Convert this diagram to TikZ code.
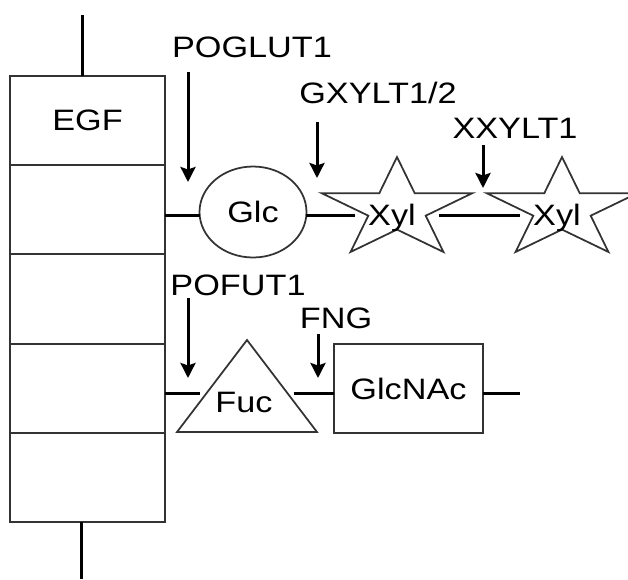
\documentclass[tikz,border=0pt]{standalone}
\usepackage{fontspec}
\setmainfont[FakeStretch=1.16]{Liberation Sans}
\usetikzlibrary{shapes.geometric, arrows.meta}

\begin{document}
\begin{tikzpicture}[x=0.02cm, y=-0.02cm,
    every node/.style={font=\fontsize{16.8}{20}\selectfont},
    egfbox/.style={draw=black!80, line width=0.04cm, minimum width=3.1cm,
        minimum height=1.784cm, inner sep=0pt, outer sep=0pt},
    sugar/.style={draw=black!80, line width=0.035cm, fill=white,
        inner sep=0pt, outer sep=0pt},
    xylstar/.style={sugar, star, star points=5, star point ratio=2.618,
        minimum size=2.1cm, xscale=1.505, transform shape},
    fucose/.style={sugar, regular polygon, regular polygon sides=3,
        minimum size=2.452cm, xscale=1.318, transform shape},
    link/.style={line width=0.06cm},
    enzyme/.style={line width=0.06cm, -{Stealth[length=0.3cm, width=0.3cm, inset=0.05cm]}},
    tag/.style={anchor=base, inner sep=0pt}]

        \useasboundingbox (0,0) rectangle (628,579);
        \clip (0,0) rectangle (628,579);

        % EGF repeat stack
        \node[egfbox] (b1) at (87.5,120.6) {EGF};
        \node[egfbox, anchor=north] (b2) at (b1.south) {};
        \node[egfbox, anchor=north] (b3) at (b2.south) {};
        \node[egfbox, anchor=north] (b4) at (b3.south) {};
        \node[egfbox, anchor=north] (b5) at (b4.south) {};

        % Stem ends and glycan row levels
        \coordinate (top) at (82,15);
        \coordinate (bot) at (81,579);
        \coordinate (r1) at (165,215);    % O-glucose row
        \coordinate (r2) at (165,393);    % O-fucose row
        \coordinate (tail) at (520,393);

        \draw[link] (b1.north -| top) -- (top);
        \draw[link] (b5.south -| bot) -- (bot);

        % Sugars
        \node[sugar, ellipse, minimum width=2.14cm, minimum height=1.82cm] (glc) at (253,212) {Glc};
        \node[xylstar] (x1) at (397,209.5) {};
        \node[xylstar] (x2) at (562,209.5) {};
        \node[tag] (x1t) at (392,225) {Xyl};
        \node[tag] (x2t) at (557,225) {Xyl};
        \node[fucose] (fuc) at (247,401.3) {};
        \node[tag] (fuct) at (244,412) {Fuc};
        \node[sugar, minimum width=2.98cm, minimum height=1.78cm] (gn) at (408.5,388.5) {GlcNAc};

        % Glycan links
        \draw[link] (b2.east |- r1) -- (glc.west |- r1);
        \draw[link] (glc.east |- r1) -- (x1.west |- r1);
        \draw[link] (x1.east |- r1) -- (x2.west |- r1);
        \draw[link] (b4.east |- r2) -- (fuc.west |- r2);
        \draw[link] (fuc.east |- r2) -- (gn.west |- r2);
        \draw[link] (gn.east |- r2) -- (tail);

        % Enzyme labels
        \node[tag] (poglut) at (252,57) {POGLUT1};
        \node[tag] (gxylt) at (378,103) {GXYLT1/2};
        \node[tag] (xxylt) at (515,138) {XXYLT1};
        \node[tag] (pofut) at (238,295) {POFUT1};
        \node[tag] (fng) at (336,328) {FNG};

        % Arrow ends
        \coordinate (p1) at (188,72);  \coordinate (q1) at (188,182);
        \coordinate (p2) at (317,122); \coordinate (q2) at (317,178);
        \coordinate (p3) at (483,145); \coordinate (q3) at (483,188);
        \coordinate (p4) at (188,298); \coordinate (q4) at (188,378);
        \coordinate (p5) at (318,334); \coordinate (q5) at (318,378);

        \draw[enzyme] (p1) -- (q1);
        \draw[enzyme] (p2) -- (q2);
        \draw[enzyme] (p3) -- (q3);
        \draw[enzyme] (p4) -- (q4);
        \draw[enzyme] (p5) -- (q5);

\end{tikzpicture}
\end{document}
